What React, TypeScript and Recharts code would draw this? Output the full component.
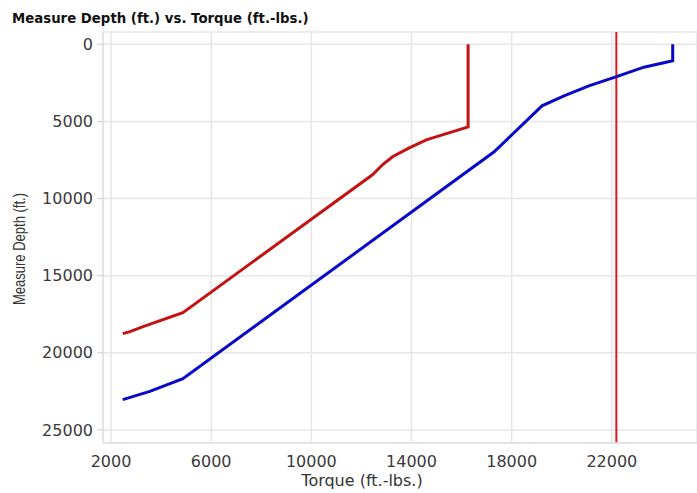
import { CartesianGrid, ReferenceLine, Scatter, ScatterChart, XAxis, YAxis } from "recharts";

const redTorque = [16260, 16260, 15230, 14590, 13910, 13240, 12840, 12440, 4870, 3280, 2760, 2470];
const redDepth = [0, 5350, 5870, 6190, 6710, 7290, 7810, 8460, 17400, 18300, 18630, 18760];

const blueTorque = [24430, 24430, 23280, 22160, 21080, 20090, 19210, 17300, 4870, 3550, 2470];
const blueDepth = [0, 1070, 1480, 2110, 2690, 3340, 3990, 6970, 21680, 22500, 23040];

const limitTorque = 22180;

const xTicks = [2000, 6000, 10000, 14000, 18000, 22000];
const yTicks = [0, 5000, 10000, 15000, 20000, 25000];

const redData = redTorque.map((t, i) => ({ t, d: redDepth[i] }));
const blueData = blueTorque.map((t, i) => ({ t, d: blueDepth[i] }));

const noDot = () => <g />;

const tickStyle = { fill: "#3a3a3a", fontSize: 16, fontFamily: "DejaVu Sans" };

export default function App() {
  return (
    <div style={{ position: "absolute", left: 0, top: 0, width: 697, height: 493, background: "#fff" }}>
      <div
        style={{
          position: "absolute",
          left: 12,
          top: 12,
          fontFamily: "DejaVu Sans",
          fontWeight: "bold",
          fontSize: 13.3,
          lineHeight: "14px",
          color: "#111",
          whiteSpace: "nowrap",
        }}
      >
        Measure Depth (ft.) vs. Torque (ft.-lbs.)
      </div>
      <ScatterChart width={697} height={493} margin={{ top: 32, right: 0, bottom: 0, left: 0 }}>
        <CartesianGrid stroke="#e6e6e6" strokeWidth={1.5} />
        <XAxis
          type="number"
          dataKey="t"
          domain={[1680, 25400]}
          ticks={xTicks}
          allowDataOverflow
          height={50}
          tickLine={false}
          tickMargin={7}
          axisLine={{ stroke: "#e0e0e0", strokeWidth: 1.5 }}
          tick={tickStyle}
        />
        <YAxis
          type="number"
          dataKey="d"
          reversed
          domain={[-800, 25850]}
          ticks={yTicks}
          allowDataOverflow
          width={103}
          tickSize={6}
          tickMargin={4}
          tickLine={{ stroke: "#ccc" }}
          axisLine={{ stroke: "#e0e0e0", strokeWidth: 1.5 }}
          tick={tickStyle}
        />
        <ReferenceLine x={limitTorque} stroke="#e3141c" strokeWidth={2} ifOverflow="hidden" />
        <Scatter
          data={redData}
          fill="#c41212"
          line={{ stroke: "#c41212", strokeWidth: 3 }}
          shape={noDot}
          isAnimationActive={false}
        />
        <Scatter
          data={blueData}
          fill="#0808c8"
          line={{ stroke: "#0808c8", strokeWidth: 3 }}
          shape={noDot}
          isAnimationActive={false}
        />
      </ScatterChart>
      <div
        style={{
          position: "absolute",
          left: 19,
          top: 249,
          transform: "translate(-50%, -50%) rotate(-90deg) scaleY(1.3)",
          fontFamily: "Liberation Sans",
          fontSize: 13,
          color: "#333",
          whiteSpace: "nowrap",
        }}
      >
        Measure Depth (ft.)
      </div>
      <div
        style={{
          position: "absolute",
          left: 362,
          top: 473,
          transform: "translateX(-50%)",
          fontFamily: "DejaVu Sans",
          fontSize: 16,
          lineHeight: "16px",
          color: "#333",
          whiteSpace: "nowrap",
        }}
      >
        Torque (ft.-lbs.)
      </div>
    </div>
  );
}
